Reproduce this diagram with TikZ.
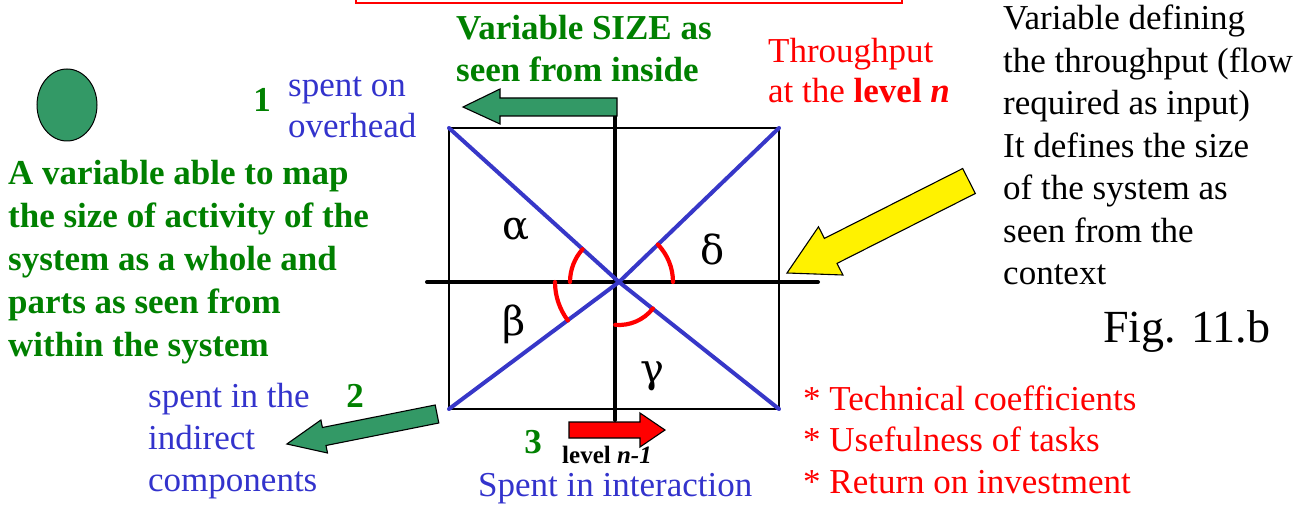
\documentclass[tikz,border=0pt]{standalone}
\usepackage{fontspec}
\setmainfont{Liberation Serif}
\newfontfamily\greekfont{DejaVu Serif}
\usetikzlibrary{shapes.geometric}
\definecolor{tgreen}{RGB}{0,128,0}
\definecolor{fgreen}{RGB}{51,153,102}
\definecolor{tblue}{RGB}{51,51,204}
\definecolor{lblue}{RGB}{55,55,200}
\begin{document}
\begin{tikzpicture}[x=1pt,y=-1pt,
  txt/.style={inner sep=0pt, anchor=base west, font=\fontsize{35}{42.5}\selectfont},
  num/.style={inner sep=0pt, anchor=base, text=tgreen, font=\fontsize{35}{40}\selectfont\bfseries},
  greek/.style={inner sep=0pt, anchor=center, font=\greekfont\fontsize{40}{46}\selectfont},
  blockarrow/.style={draw=black, line width=1.1pt, line join=miter},
  axisline/.style={draw=black, line width=4pt, line cap=round},
  diagline/.style={draw=lblue, line width=4pt, line cap=round},
  anglemark/.style={draw=red, line width=4.2pt, line cap=round}]
\useasboundingbox (0,0) rectangle (1312,505);

% red frame at the top edge
\draw[red, line width=1.2pt] (356,-20) rectangle (902,3);

% square, axes and diagonals
\coordinate (TL) at (449,128);
\coordinate (TR) at (779,128);
\coordinate (BL) at (449,409);
\coordinate (BR) at (779,409);
\coordinate (C) at (619,282);
\coordinate (hL) at (427,282);
\coordinate (hR) at (818,282);
\coordinate (vT) at (615,116);
\coordinate (vB) at (615,420);
\draw[line width=1.8pt] (TL) rectangle (BR);
\draw[axisline] (hL) -- (hR);
\draw[axisline] (vT) -- (vB);
\draw[diagline] (TL) -- (C) -- (BR);
\draw[diagline] (BL) -- (C) -- (TR);

% angle marks
\draw[anglemark] (C) ++(180:49pt) arc[start angle=180, end angle=138, radius=49pt];
\draw[anglemark] (C) ++(44:54pt) arc[start angle=44, end angle=0, radius=54pt];
\draw[anglemark] (C) ++(-95:43pt) arc[start angle=-95, end angle=-38, radius=43pt];
\draw[anglemark] (C) ++(180:64pt) arc[start angle=180, end angle=217, radius=64pt];

% greek letters
\node[greek] (alpha) at (516,230) {α};
\node[greek] (delta) at (713,249) {δ};
\node[greek] (beta) at (514,324) {β};
\node[greek] (gamma) at (652,376) {γ};

% block arrows
\draw[blockarrow, fill=fgreen] (617,98) -- (500,98) -- (500,89) -- (463,107) -- (500,124) -- (500,116) -- (617,116) -- cycle;
\draw[blockarrow, fill=red] (569,422) -- (640,422) -- (640,413) -- (665,430) -- (640,447) -- (640,438) -- (569,438) -- cycle;
\draw[blockarrow, fill=fgreen] (435.2,405) -- (322.4,427.5) -- (320.9,420) -- (286.9,444) -- (327.5,453) -- (326,445.5) -- (438.8,423) -- cycle;
\draw[blockarrow, fill=yellow] (962.7,168.5) -- (824.4,238.4) -- (818.5,226.8) -- (787,273) -- (842.9,275) -- (837,263.4) -- (975.3,193.5) -- cycle;

% green dot
\node[draw=black, line width=1pt, ellipse, fill=fgreen, minimum width=60pt, minimum height=72pt, inner sep=0pt] (dot) at (67,105) {};

% texts
\node[txt, text=tgreen, font=\fontsize{35}{42}\selectfont\bfseries] (size) at (456,40)
  {\parbox[t]{300pt}{\raggedright Variable SIZE as\\seen from inside}};
\node[txt, text=red, font=\fontsize{35}{40}\selectfont] (thru) at (768,63)
  {\parbox[t]{250pt}{\raggedright Throughput\\at the \textbf{level \textit{n}}}};
\node[txt, text=black] (ctx) at (1003,30)
  {\parbox[t]{320pt}{\raggedright Variable defining\\the throughput (flow\\required as input)\\It defines the size\\of the system as\\seen from the\\context}};
\node[txt, text=tgreen, font=\fontsize{35}{43}\selectfont\bfseries] (map) at (8,185)
  {\parbox[t]{420pt}{\raggedright A variable able to map\\the size of activity of the\\system as a whole and\\parts as seen from\\within the system}};
\node[txt, text=tblue, font=\fontsize{35}{41}\selectfont] (over) at (288,97)
  {\parbox[t]{200pt}{\raggedright spent on\\overhead}};
\node[txt, text=tblue, font=\fontsize{35}{42}\selectfont] (indir) at (148,407)
  {\parbox[t]{250pt}{\raggedright spent in the\\indirect\\components}};
\node[txt, text=tblue] (inter) at (478,496) {Spent in interaction};
\node[txt, text=red, font=\fontsize{35}{41.5}\selectfont] (coef) at (803,410)
  {\parbox[t]{400pt}{\raggedright {*} Technical coefficients\\{*} Usefulness of tasks\\{*} Return on investment}};
\node[txt, text=black, font=\fontsize{46}{50}\selectfont] (fig) at (1103,342) {Fig. 11.b};
\node[txt, text=black, font=\fontsize{25}{30}\selectfont\bfseries] (lvl) at (562,463) {level \textit{n-1}};

% numbers
\node[num] (n1) at (262,112) {1};
\node[num] (n2) at (355,407) {2};
\node[num] (n3) at (533,453) {3};
\end{tikzpicture}
\end{document}
